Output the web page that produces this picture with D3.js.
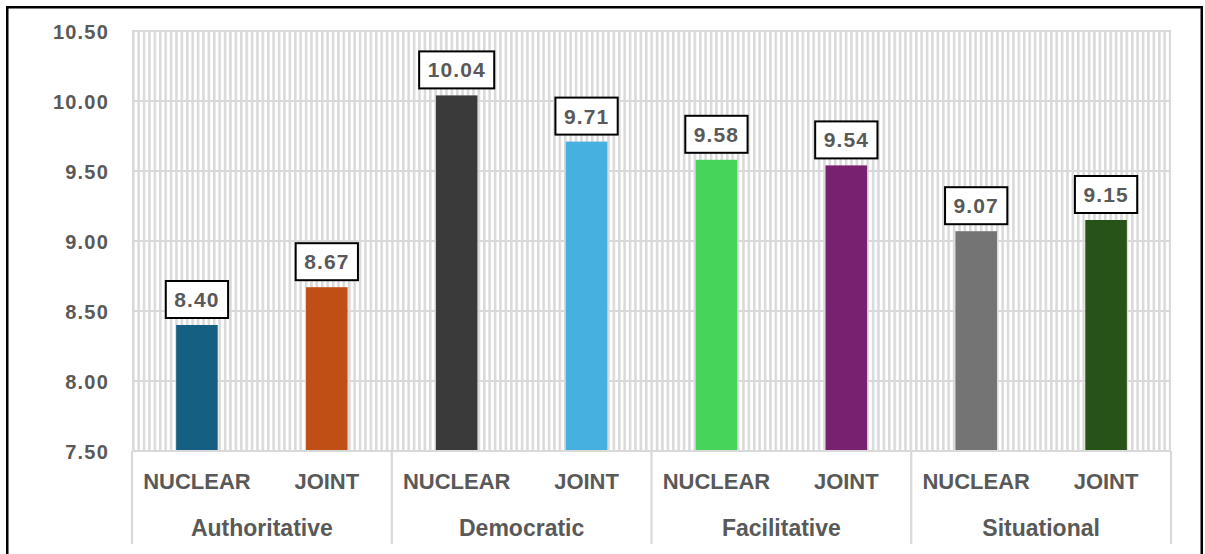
<!DOCTYPE html>
<html>
<head>
<meta charset="utf-8">
<script src="https://cdn.jsdelivr.net/npm/d3@7/dist/d3.min.js"></script>
<style>
  html, body { margin: 0; padding: 0; background: #fff; }
  svg { display: block; }
  text { font-family: "Liberation Sans", Arial, sans-serif; font-weight: 700; fill: #595959; }
</style>
</head>
<body>
<svg id="chart" width="1205" height="554"></svg>
<script>
// Leadership styles and the two team types within each
const groups = ["Authoritative", "Democratic", "Facilitative", "Situational"];
const types = ["NUCLEAR", "JOINT"];
const nuclearValues = [8.40, 10.04, 9.58, 9.07];
const jointValues = [8.67, 9.71, 9.54, 9.15];
const nuclearColors = ["#156082", "#3A3A3A", "#47D45A", "#747474"];
const jointColors = ["#C04F15", "#46B1E1", "#782170", "#275317"];
const yTicks = [7.5, 8.0, 8.5, 9.0, 9.5, 10.0, 10.5];

const svg = d3.select("#chart");
const W = 1205, H = 554;
const plot = { left: 132, right: 1171, top: 31, bottom: 451 };

// Outer frame
svg.append("rect")
  .attr("x", 7.25).attr("y", 7.25)
  .attr("width", W - 7.25 - 3.25).attr("height", H + 10)
  .attr("fill", "#fff").attr("stroke", "#000").attr("stroke-width", 2.5);

// Narrow vertical stripe fill for the plot area
const defs = svg.append("defs");
const pat = defs.append("pattern")
  .attr("id", "stripes")
  .attr("patternUnits", "userSpaceOnUse")
  .attr("x", plot.left).attr("y", 0)
  .attr("width", 5.4).attr("height", 10);
pat.append("rect").attr("width", 5.4).attr("height", 10).attr("fill", "#fff");
pat.append("rect").attr("x", 0).attr("width", 2.5).attr("height", 10).attr("fill", "#d9d9d9");

const y = d3.scaleLinear().domain([7.5, 10.5]).range([plot.bottom, plot.top]);
const x0 = d3.scaleBand().domain(groups).range([plot.left, plot.right]).paddingInner(0).paddingOuter(0);
const x1 = d3.scaleBand().domain(types).range([0, x0.bandwidth()]).paddingInner(0.68).paddingOuter(0.34);

svg.append("rect")
  .attr("x", plot.left).attr("y", plot.top)
  .attr("width", plot.right - plot.left).attr("height", plot.bottom - plot.top)
  .attr("fill", "url(#stripes)");

// Horizontal gridlines
svg.append("g").selectAll("line").data(yTicks).join("line")
  .attr("x1", plot.left).attr("x2", plot.right)
  .attr("y1", d => y(d)).attr("y2", d => y(d))
  .attr("stroke", "#d9d9d9").attr("stroke-width", 2.2);

// Y axis labels
const yAxis = d3.axisLeft(y).tickValues(yTicks).tickFormat(d3.format(".2f")).tickSize(0).tickPadding(23);
const gy = svg.append("g").attr("transform", `translate(${plot.left},0)`).call(yAxis);
gy.select(".domain").remove();
gy.selectAll("text")
  .attr("fill", "#595959")
  .style("font-size", "20px").style("letter-spacing", "1.2px")
  .attr("dy", "0.36em");

// Bars
const rows = groups.map((g, i) => [
  { group: g, type: "NUCLEAR", value: nuclearValues[i], color: nuclearColors[i] },
  { group: g, type: "JOINT", value: jointValues[i], color: jointColors[i] }
]).flat();

svg.append("g").selectAll("rect").data(rows).join("rect")
  .attr("x", d => x0(d.group) + x1(d.type))
  .attr("y", d => y(d.value))
  .attr("width", x1.bandwidth())
  .attr("height", d => y(7.5) - y(d.value))
  .attr("fill", d => d.color);

// Value labels in boxes
const lab = svg.append("g").selectAll("g").data(rows).join("g")
  .attr("transform", d => `translate(${x0(d.group) + x1(d.type) + x1.bandwidth() / 2},${y(d.value) - 7})`);
lab.append("rect").attr("class", "box");
lab.append("text")
  .attr("text-anchor", "middle")
  .attr("y", -11)
  .style("font-size", "21px").style("letter-spacing", "1.1px")
  .attr("fill", "#404040")
  .text(d => d3.format(".2f")(d.value));
lab.each(function () {
  const g = d3.select(this);
  const tw = g.select("text").node().getComputedTextLength();
  const bw = tw + 17;
  g.select("rect.box")
    .attr("x", -bw / 2).attr("y", -37)
    .attr("width", bw).attr("height", 37)
    .attr("fill", "#fff").attr("stroke", "#000").attr("stroke-width", 2);
});

// Category axis: baseline and group separators
const axisG = svg.append("g");
axisG.append("line")
  .attr("x1", plot.left).attr("x2", plot.right)
  .attr("y1", plot.bottom).attr("y2", plot.bottom)
  .attr("stroke", "#d9d9d9").attr("stroke-width", 2.2);
const seps = groups.map(g => x0(g)).concat([plot.right]);
axisG.selectAll("line.sep").data(seps).join("line").attr("class", "sep")
  .attr("x1", d => d).attr("x2", d => d)
  .attr("y1", plot.bottom).attr("y2", 544)
  .attr("stroke", "#d9d9d9").attr("stroke-width", 2.2);

// Team type labels
svg.append("g").selectAll("text").data(rows).join("text")
  .attr("x", d => x0(d.group) + x1(d.type) + x1.bandwidth() / 2)
  .attr("y", 489)
  .attr("text-anchor", "middle")
  .style("font-size", "22px")
  .text(d => d.type);

// Leadership style labels
svg.append("g").selectAll("text").data(groups).join("text")
  .attr("x", d => x0(d) + x0.bandwidth() / 2)
  .attr("y", 536)
  .attr("text-anchor", "middle")
  .style("font-size", "23px")
  .text(d => d);
</script>
</body>
</html>
